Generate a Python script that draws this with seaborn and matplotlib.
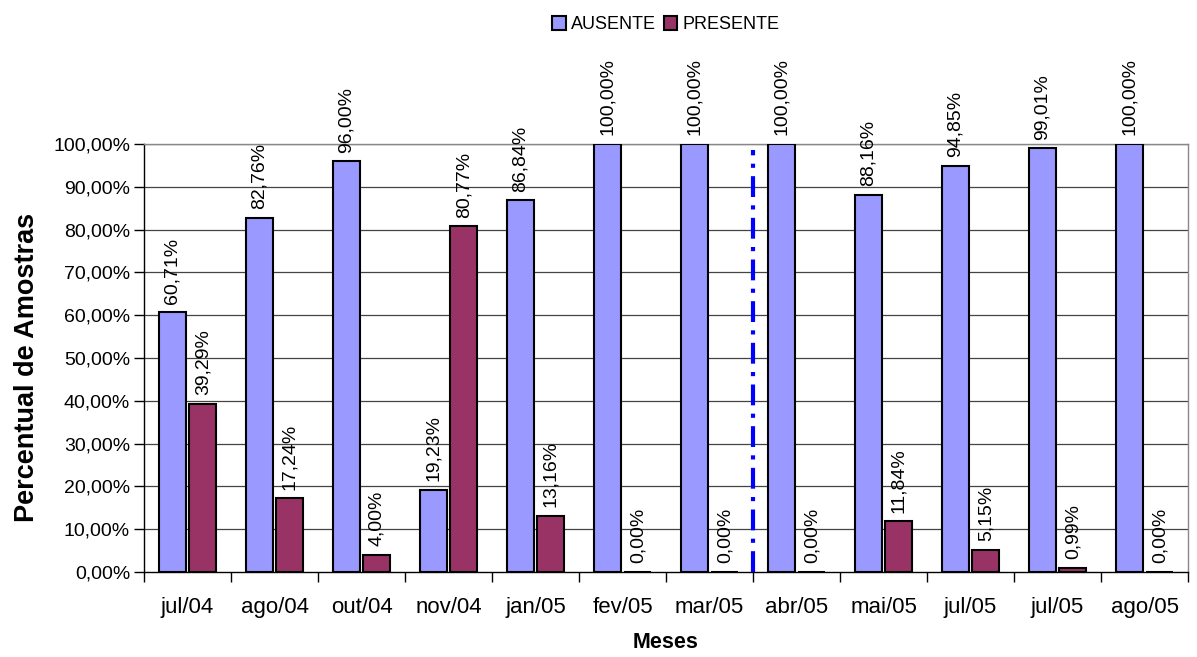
import matplotlib
matplotlib.use("Agg")
import matplotlib.pyplot as plt
import seaborn as sns
import pandas as pd
from matplotlib.ticker import FuncFormatter, FixedLocator

meses = ["jul/04", "ago/04", "out/04", "nov/04", "jan/05", "fev/05",
         "mar/05", "abr/05", "mai/05", "jul/05", "jul/05", "ago/05"]
ausente = [60.71, 82.76, 96.00, 19.23, 86.84, 100.00, 100.00, 100.00,
           88.16, 94.85, 99.01, 100.00]
presente = [39.29, 17.24, 4.00, 80.77, 13.16, 0.00, 0.00, 0.00,
            11.84, 5.15, 0.99, 0.00]
series = ["AUSENTE", "PRESENTE"]
cores = ["#9999FF", "#993366"]

# unique positions so repeated month labels stay separate categories
pos = list(range(len(meses)))
df = pd.DataFrame({
    "pos": pos * 2,
    "valor": [v / 100 for v in ausente] + [v / 100 for v in presente],
    "serie": [series[0]] * len(pos) + [series[1]] * len(pos),
})

sns.set_theme(style="white")
plt.rcParams["font.family"] = ["Liberation Sans", "DejaVu Sans"]
plt.rcParams["text.color"] = "black"
plt.rcParams["axes.labelcolor"] = "black"

fig = plt.figure(figsize=(11.97, 6.57), dpi=100)
ax = fig.add_axes([144 / 1197, 1 - 572 / 657, (1188 - 144) / 1197, 428 / 657])

sns.barplot(data=df, x="pos", y="valor", hue="serie", hue_order=series,
            palette=cores, width=0.704, gap=0.12, saturation=1,
            edgecolor="black", linewidth=1.5, ax=ax, legend=True, zorder=3)

ax.set_xlim(-0.5, len(meses) - 0.5)
ax.set_ylim(0, 1)

# value labels above each bar
for cont in ax.containers:
    for bar in cont:
        h = bar.get_height()
        ax.text(bar.get_x() + bar.get_width() / 2, h + 0.02,
                f"{h * 100:.2f}%".replace(".", ","),
                rotation=90, ha="center", va="bottom", fontsize=14,
                color="black", clip_on=False, zorder=4)

# horizontal grid
for y in [i / 10 for i in range(1, 11)]:
    ax.axhline(y, color="#444444", lw=0.9, zorder=1)

# axes and ticks
ax.yaxis.set_major_locator(FixedLocator([i / 10 for i in range(11)]))
ax.yaxis.set_major_formatter(FuncFormatter(lambda v, p: f"{v * 100:.2f}%".replace(".", ",")))
ax.set_xticks(pos)
ax.set_xticklabels(meses)
ax.xaxis.set_minor_locator(FixedLocator([p - 0.5 for p in pos] + [len(pos) - 0.5]))
ax.tick_params(axis="x", which="major", length=0, labelsize=16, pad=18, colors="black")
ax.tick_params(axis="x", which="minor", length=7, width=1, color="black", direction="out", bottom=True)
ax.tick_params(axis="y", which="major", length=7, width=1, color="black", direction="out",
               left=True, labelsize=14, pad=3, colors="black")

for side in ["left", "bottom"]:
    ax.spines[side].set_color("black")
    ax.spines[side].set_linewidth(1)
for side in ["top", "right"]:
    ax.spines[side].set_visible(True)
    ax.spines[side].set_color("#888888")
    ax.spines[side].set_linewidth(1)
ax.set_facecolor("white")

ax.set_xlabel("Meses", fontsize=15.5, fontweight="bold", labelpad=10)
ax.set_ylabel("Percentual de Amostras", fontsize=19.5, fontweight="bold", va="center")
ax.yaxis.set_label_coords(-0.112, 0.477)

# separator between mar/05 and abr/05
ax.plot([6.5, 6.5], [0, 0.985], color="#0000FF", lw=3, linestyle=(0, (5, 2, 1, 2)), zorder=5)

leg = ax.legend(loc="upper center", bbox_to_anchor=(0.5, 1 + 144 / 428), ncol=2,
                frameon=False, fontsize=13, handlelength=0.75, handleheight=0.75,
                handletextpad=0.3, columnspacing=0.4)
for t in leg.get_texts():
    t.set_color("black")

fig.savefig("out.png", dpi=100)
